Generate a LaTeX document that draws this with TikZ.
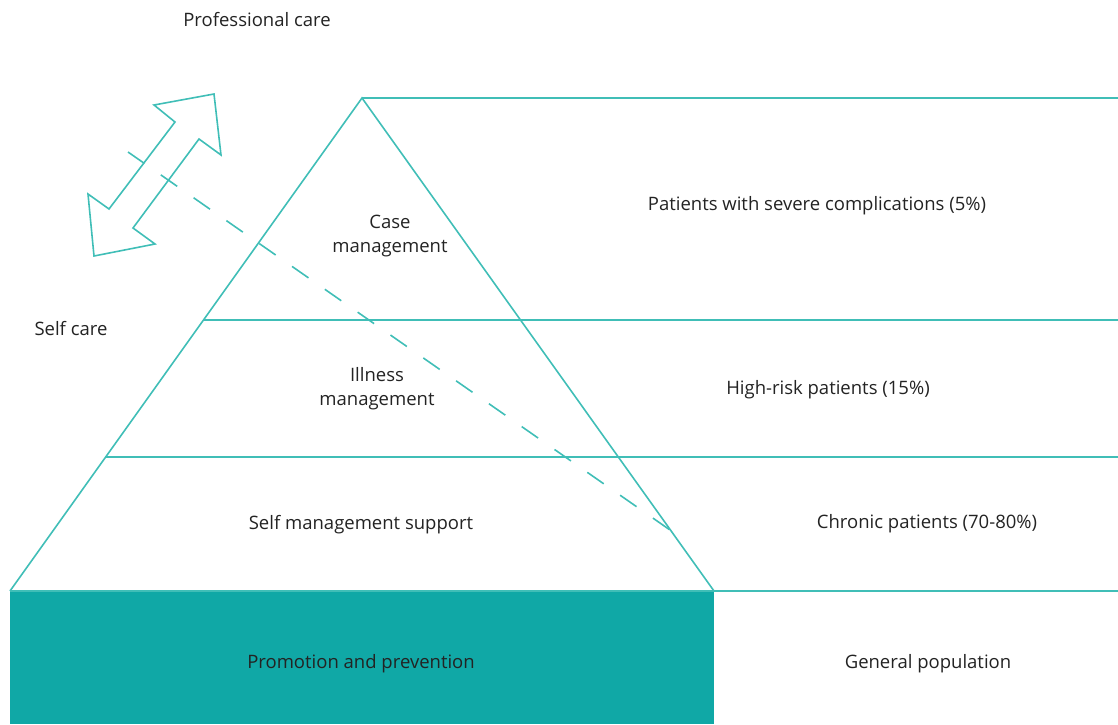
\documentclass[tikz,border=0pt]{standalone}
\usepackage{fontspec}
\setmainfont{Open Sans}
\begin{document}
\begin{tikzpicture}[x=1pt,y=-1pt,
  line/.style={draw=tealline,line width=1.6pt},
  lbl/.style={font=\fontsize{18.5}{24}\selectfont,text=textgray,align=center,inner sep=0pt},
  ]
\definecolor{tealline}{RGB}{64,190,183}
\definecolor{tealfill}{RGB}{16,168,166}
\definecolor{textgray}{RGB}{35,35,35}
\useasboundingbox (0,0) rectangle (1118,724);
% coordinates
\coordinate (apex) at (362,98);
\coordinate (bl) at (10,591);
\coordinate (br) at (714,591);
\coordinate (l1) at (203.5,320);
\coordinate (r1) at (520.5,320);
\coordinate (l2) at (105.7,457);
\coordinate (r2) at (618.3,457);
\coordinate (e0) at (1118,98);
\coordinate (e1) at (1118,320);
\coordinate (e2) at (1118,457);
\coordinate (e3) at (1118,591);
% filled base
\fill[tealfill] (bl) rectangle (714,724);
% pyramid
\draw[line,line join=miter] (bl) -- (apex) -- (br);
\draw[line] (apex) -- (e0);
\draw[line] (l1) -- (e1);
\draw[line] (l2) -- (e2);
\draw[line] (bl) -- (br);
\draw[line] (br) -- (e3);
% dashed line
\coordinate (ds) at (128,152);
\coordinate (de) at (670,530);
\draw[line,dash pattern=on 20pt off 20pt] (ds) -- (de);
% double arrow
\draw[line,line join=miter] (214,94) -- (154,105) -- (175,122) -- (109,209) -- (88,194) -- (94,256) -- (155,244) -- (133,228) -- (199,139) -- (221,155) -- cycle;
% labels
\node[lbl] (prof) at (257,20) {Professional care};
\node[lbl] (self) at (71,329) {Self care};
\node[lbl] (case) at (390,236) {Case\\management};
\node[lbl] (ill) at (377,389) {Illness\\management};
\node[lbl] (sms) at (361,525) {Self management support};
\node[lbl] (pp) at (361,664) {Promotion and prevention};
\node[lbl] (sev) at (817,206) {Patients with severe complications (5\%)};
\node[lbl] (hr) at (828,390) {High-risk patients (15\%)};
\node[lbl] (chr) at (927,524) {Chronic patients (70-80\%)};
\node[lbl] (gen) at (928,664) {General population};
\end{tikzpicture}
\end{document}
